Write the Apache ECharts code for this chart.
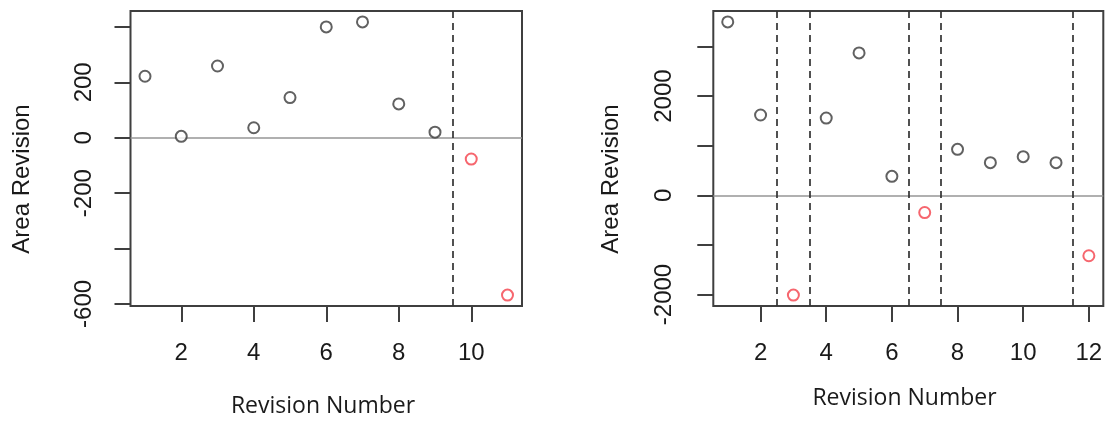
<!DOCTYPE html>
<html>
<head>
<meta charset="utf-8">
<script src="https://cdn.jsdelivr.net/npm/echarts@6/dist/echarts.min.js"></script>
<style>
html,body{margin:0;padding:0;background:#fff;}
#chart{width:1106px;height:423px;}
</style>
</head>
<body>
<div id="chart"></div>
<script>
// ---- data ----
const leftRevision = [1, 2, 3, 4, 5, 6, 7, 8, 9, 10, 11];
const leftArea = [222, 5, 259, 36, 145, 400, 418, 122, 20, -77, -568];
const leftFlagged = [10, 11];
const leftBreaks = [9.5];
const leftXTicks = [2, 4, 6, 8, 10];
const leftYTicks = [-600, -400, -200, 0, 200, 400];
const leftYLabels = [-600, -200, 0, 200];

const rightRevision = [1, 2, 3, 4, 5, 6, 7, 8, 9, 10, 11, 12];
const rightArea = [3495, 1618, -2012, 1557, 2871, 382, -348, 926, 658, 779, 658, -1219];
const rightFlagged = [3, 7, 12];
const rightBreaks = [2.5, 3.5, 6.5, 7.5, 11.5];
const rightXTicks = [2, 4, 6, 8, 10, 12];
const rightYTicks = [-2000, -1000, 0, 1000, 2000, 3000];
const rightYLabels = [-2000, 0, 2000];

const xTitle = 'Revision Number';
const yTitle = 'Area Revision';

// ---- helpers ----
function rLim(vals) {
  const lo = Math.min(...vals), hi = Math.max(...vals), r = hi - lo;
  return [lo - 0.04 * r, hi + 0.04 * r];
}
const BOX = '#3f3f3f';
const TXT = '#1a1a1a';
const BLACKPT = '#3a3a3a';
const REDPT = '#f4404a';
const TICKFONT = '"Liberation Sans", Arial, sans-serif';
const XTITLEFONT = '"Open Sans", "Noto Sans", sans-serif';

function pts(xs, ys, flagged, wantFlag) {
  const out = [];
  xs.forEach((x, i) => {
    if (flagged.includes(x) === wantFlag) out.push([x, ys[i]]);
  });
  return out;
}

function makeAxes(idx, xs, ys, xTicks, yTicks, yLabels, cfg) {
  const xl = rLim(xs), yl = rLim(ys);
  const xAxis = {
    type: 'value', gridIndex: idx, min: xl[0], max: xl[1],
    axisLine: {show: false, onZero: false},
    splitLine: {show: false},
    axisTick: {show: true, inside: false, length: 16, customValues: xTicks,
      lineStyle: {color: BOX, width: 2}},
    axisLabel: {show: true, customValues: xTicks, margin: cfg.xLabelMargin,
      color: TXT, fontSize: 24, fontFamily: TICKFONT, formatter: v => String(v)}
  };
  const yAxis = {
    type: 'value', gridIndex: idx, min: yl[0], max: yl[1],
    axisLine: {show: false, onZero: false},
    splitLine: {show: false},
    axisTick: {show: true, inside: false, length: 16, customValues: yTicks,
      lineStyle: {color: BOX, width: 2}},
    axisLabel: {show: true, customValues: yLabels, rotate: 90, margin: cfg.yLabelMargin,
      color: TXT, fontSize: 24, fontFamily: TICKFONT, formatter: v => String(v)}
  };
  return {xAxis, yAxis};
}

function makeSeries(idx, xs, ys, flagged, breaks) {
  const common = {
    type: 'scatter', xAxisIndex: idx, yAxisIndex: idx,
    symbol: 'emptyCircle', symbolSize: 11, silent: true, z: 5
  };
  return [
    Object.assign({}, common, {
      data: pts(xs, ys, flagged, false),
      itemStyle: {color: BLACKPT, borderColor: BLACKPT, borderWidth: 1.8},
      markLine: {
        silent: true, symbol: ['none', 'none'], label: {show: false},
        animation: false,
        data: [
          {yAxis: 0, lineStyle: {color: '#969696', width: 1.6, type: 'solid'}}
        ].concat(breaks.map(b => ({xAxis: b,
          lineStyle: {color: '#333', width: 1.7, type: [7, 5]}})))
      }
    }),
    Object.assign({}, common, {
      data: pts(xs, ys, flagged, true),
      itemStyle: {color: REDPT, borderColor: REDPT, borderWidth: 1.8}
    })
  ];
}

const L = makeAxes(0, leftRevision, leftArea, leftXTicks, leftYTicks, leftYLabels,
  {xLabelMargin: 35, yLabelMargin: 34});
const R = makeAxes(1, rightRevision, rightArea, rightXTicks, rightYTicks, rightYLabels,
  {xLabelMargin: 35, yLabelMargin: 37});

function titleText(text, x, y, rot, font, size) {
  return {
    type: 'text', x: x, y: y, rotation: rot, silent: true,
    style: {text: text, fill: TXT, font: size + 'px ' + font,
      align: 'center', verticalAlign: 'middle'}
  };
}

const chart = echarts.init(document.getElementById('chart'), null, {renderer: 'canvas'});
chart.setOption({
  animation: false,
  backgroundColor: '#fff',
  grid: [
    {left: 130.5, top: 11, width: 391.5, height: 295, show: true,
     borderColor: BOX, borderWidth: 2, backgroundColor: 'transparent', containLabel: false},
    {left: 713.3, top: 11, width: 390, height: 295, show: true,
     borderColor: BOX, borderWidth: 2, backgroundColor: 'transparent', containLabel: false}
  ],
  xAxis: [L.xAxis, R.xAxis],
  yAxis: [L.yAxis, R.yAxis],
  graphic: [
    titleText(yTitle, 22, 179, Math.PI / 2, TICKFONT, 24),
    titleText(yTitle, 611, 179, Math.PI / 2, TICKFONT, 24),
    titleText(xTitle, 323, 406, 0, XTITLEFONT, 23),
    titleText(xTitle, 904.5, 398, 0, XTITLEFONT, 23)
  ],
  series: makeSeries(0, leftRevision, leftArea, leftFlagged, leftBreaks)
    .concat(makeSeries(1, rightRevision, rightArea, rightFlagged, rightBreaks))
});
</script>
</body>
</html>
